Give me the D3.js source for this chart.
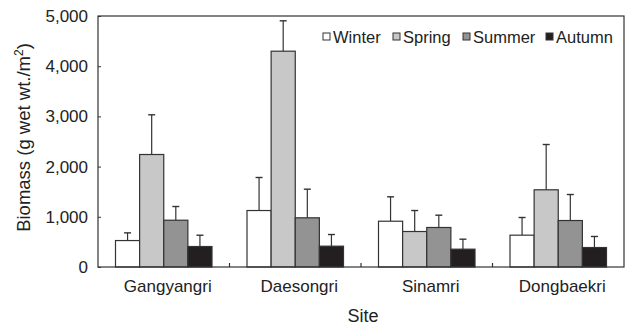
<!DOCTYPE html>
<html>
<head>
<meta charset="utf-8">
<script src="https://cdn.jsdelivr.net/npm/d3@7"></script>
<style>
  body { margin: 0; background: #fff; }
  svg text { font-family: "Liberation Sans", Arial, sans-serif; fill: #222; }
</style>
</head>
<body>
<div id="chart"></div>
<script>
var sites = ['Gangyangri', 'Daesongri', 'Sinamri', 'Dongbaekri'];
var seasons = ['Winter', 'Spring', 'Summer', 'Autumn'];
var colors = ['#ffffff', '#c8c8c8', '#939393', '#231f20'];

// mean biomass per site, one array per season
var winter = [527, 1125, 912, 634];
var spring = [2241, 4299, 707, 1538];
var summer = [932, 980, 787, 926];
var autumn = [408, 415, 355, 388];

// upper end of the error bar
var winter_err = [680, 1783, 1398, 986];
var spring_err = [3032, 4904, 1125, 2440];
var summer_err = [1205, 1550, 1032, 1444];
var autumn_err = [633, 647, 554, 608];

var y_ticks = [0, 1000, 2000, 3000, 4000, 5000];

var means = [winter, spring, summer, autumn];
var errs = [winter_err, spring_err, summer_err, autumn_err];

var margin = { top: 16, bottom: 68, left: 98, right: 6 };
var w = 630, h = 335;
var width = w - margin.left - margin.right;
var height = h - margin.top - margin.bottom;

var svg = d3.select('#chart').append('svg')
  .attr('width', w)
  .attr('height', h);

var g = svg.append('g')
  .attr('transform', `translate(${ margin.left }, ${ margin.top })`);

var x0 = d3.scaleBand().domain(sites).range([0, width]).paddingInner(0).paddingOuter(0);
var x1 = d3.scaleBand().domain(seasons).range([17.5, x0.bandwidth() - 17.5]);
var y = d3.scaleLinear().domain([0, 5000]).range([height, 0]);

var rows = [];
sites.forEach((s, i) => {
  seasons.forEach((k, j) => {
    rows.push({ site: s, season: k, value: means[j][i], err: errs[j][i], color: colors[j] });
  });
});

// error bars (drawn first so bars sit on top)
var eb = g.append('g').attr('class', 'errors');
rows.forEach(d => {
  var cx = x0(d.site) + x1(d.season) + x1.bandwidth() / 2;
  eb.append('line')
    .attr('x1', cx).attr('x2', cx)
    .attr('y1', y(d.value)).attr('y2', y(d.err))
    .attr('stroke', '#333').attr('stroke-width', 1.2);
  eb.append('line')
    .attr('x1', cx - 3.5).attr('x2', cx + 3.5)
    .attr('y1', y(d.err)).attr('y2', y(d.err))
    .attr('stroke', '#333').attr('stroke-width', 1.4);
});

g.append('g').attr('class', 'bars')
  .selectAll('rect')
  .data(rows)
  .enter().append('rect')
  .attr('x', d => x0(d.site) + x1(d.season))
  .attr('y', d => y(d.value))
  .attr('width', x1.bandwidth())
  .attr('height', d => height - y(d.value))
  .attr('fill', d => d.color)
  .attr('stroke', '#333')
  .attr('stroke-width', 1.2);

// frame
g.append('rect')
  .attr('x', 0).attr('y', 0)
  .attr('width', width).attr('height', height)
  .attr('fill', 'none')
  .attr('stroke', '#333')
  .attr('stroke-width', 1.2);

// y axis
var ya = g.append('g')
  .call(d3.axisLeft(y).tickValues(y_ticks).tickSize(-3).tickPadding(10).tickFormat(d3.format(',')));
ya.select('.domain').remove();
ya.selectAll('line').attr('stroke', '#333');
ya.selectAll('text').style('font-size', '17px').attr('fill', '#222');

// x axis: ticks between groups
var xa = g.append('g')
  .attr('transform', `translate(0, ${ height })`)
  .call(d3.axisBottom(x0).tickSize(0).tickPadding(13));
xa.select('.domain').remove();
xa.selectAll('text').style('font-size', '17px').attr('dx', 4).attr('fill', '#222');

sites.slice(1).forEach(s => {
  g.append('line')
    .attr('x1', x0(s)).attr('x2', x0(s))
    .attr('y1', height).attr('y2', height - 4)
    .attr('stroke', '#333').attr('stroke-width', 1.2);
});

// axis titles
svg.append('text')
  .attr('transform', `translate(30, ${ margin.top + height / 2 - 4 }) rotate(-90)`)
  .attr('text-anchor', 'middle')
  .style('font-size', '18.5px')
  .html('Biomass (g wet wt./m<tspan dy="-7" style="font-size:12px">2</tspan><tspan dy="7">)</tspan>');

svg.append('text')
  .attr('x', margin.left + width / 2 + 2)
  .attr('y', 322)
  .attr('text-anchor', 'middle')
  .style('font-size', '18px')
  .text('Site');

// legend
var legend_x = [323, 393, 463, 546];
var lg = svg.append('g').attr('class', 'legend');
seasons.forEach((k, j) => {
  lg.append('rect')
    .attr('x', legend_x[j]).attr('y', 33)
    .attr('width', 7).attr('height', 7)
    .attr('fill', colors[j])
    .attr('stroke', '#333').attr('stroke-width', 1);
  lg.append('text')
    .attr('x', legend_x[j] + 10).attr('y', 42.5)
    .style('font-size', '16.5px')
    .text(k);
});
</script>
</body>
</html>
